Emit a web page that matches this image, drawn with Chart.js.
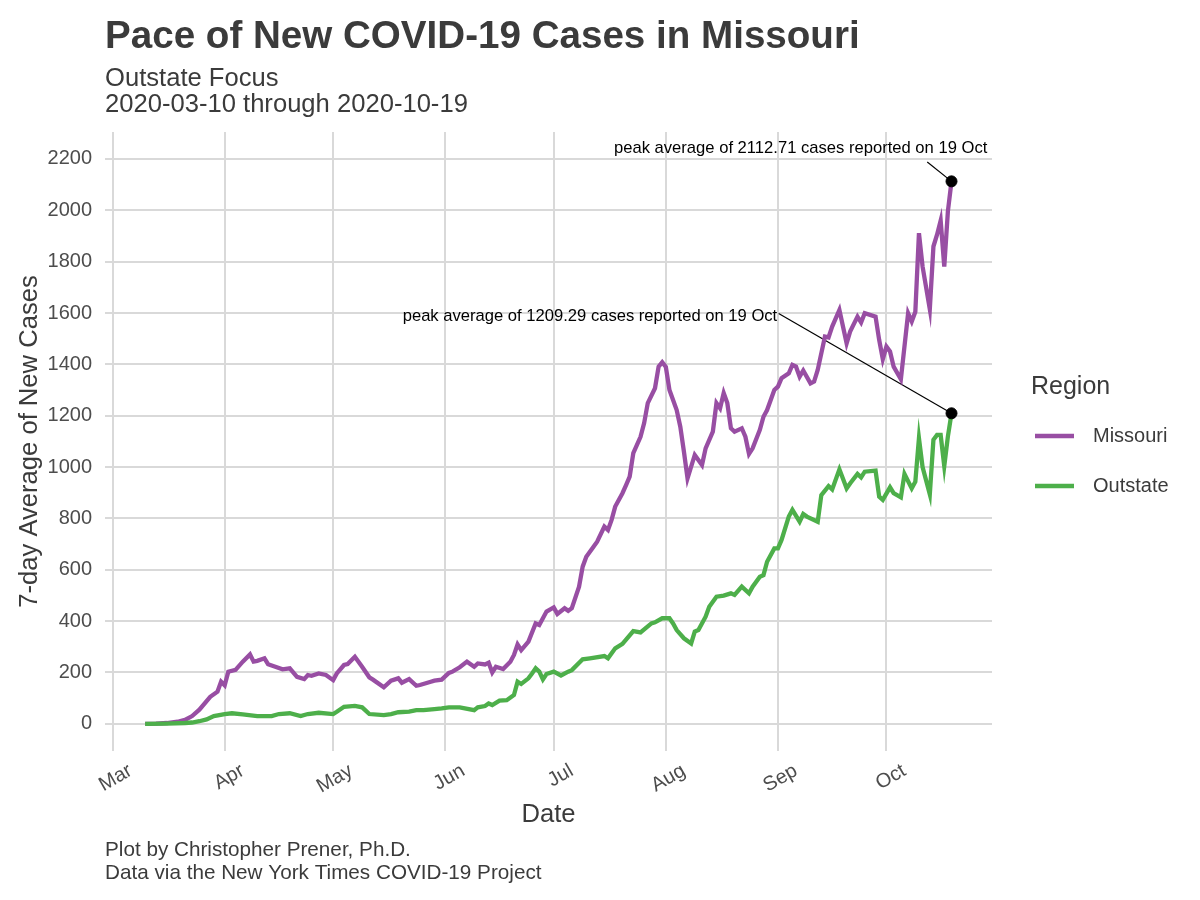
<!DOCTYPE html>
<html>
<head>
<meta charset="utf-8">
<script src="https://cdn.jsdelivr.net/npm/chart.js@4.4.1/dist/chart.umd.min.js"></script>
<style>
  body { margin: 0; background: #fff; }
  #chart { display: block; }
</style>
</head>
<body>
<canvas id="chart" width="1200" height="900"></canvas>
<script>
// --- data (dates in 2020) ---
const missouriDates = ['03-10','03-13','03-16','03-19','03-21','03-23','03-25','03-28','03-30','03-31',
  '04-01','04-02','04-04','04-06','04-08','04-09','04-10','04-12','04-13','04-15','04-17','04-19','04-21','04-23','04-24','04-25','04-27','04-29',
  '05-01','05-02','05-04','05-05','05-07','05-09','05-11','05-12','05-15','05-17','05-19','05-20','05-22','05-24','05-25','05-28','05-29','05-31',
  '06-02','06-03','06-05','06-07','06-09','06-10','06-12','06-13','06-14','06-15','06-17','06-19','06-20','06-21','06-22','06-24','06-26','06-27','06-29',
  '07-01','07-02','07-04','07-05','07-06','07-08','07-09','07-10','07-12','07-13','07-15','07-16','07-17','07-18','07-20','07-21','07-22','07-23','07-25','07-26','07-27','07-29','07-30','07-31',
  '08-01','08-02','08-03','08-04','08-05','08-06','08-07','08-09','08-11','08-12','08-14','08-15','08-16','08-17','08-18','08-19','08-20','08-22','08-23','08-24','08-25','08-27','08-28','08-29','08-31',
  '09-01','09-02','09-04','09-05','09-06','09-07','09-08','09-10','09-11','09-12','09-14','09-15','09-16','09-18','09-20','09-21','09-23','09-24','09-25','09-28','09-29','09-30',
  '10-01','10-02','10-03','10-05','10-07','10-08','10-09','10-10','10-11','10-13','10-14','10-15','10-16','10-17','10-18','10-19'];
const missouriValues = [0,1,3,8,15,30,55,105,125,164,
  150,203,210,242,270,242,245,255,232,222,212,216,183,174,190,187,196,190,
  170,196,229,233,261,222,181,172,142,168,177,160,174,148,151,164,168,172,
  198,203,220,242,222,235,231,238,200,222,213,242,268,309,287,320,391,385,437,
  453,428,450,440,450,534,612,651,690,709,768,755,794,846,898,930,963,1054,1118,1171,1249,1307,1391,1408,
  1390,1300,1261,1222,1157,1060,956,1047,1008,1073,1138,1249,1229,1288,1249,1151,1138,1151,1118,1051,1073,1145,1196,1222,1300,
  1313,1346,1365,1398,1391,1352,1376,1326,1333,1378,1508,1505,1547,1612,1482,1529,1586,1563,1599,1586,1495,1420,
  1469,1450,1391,1342,1599,1567,1605,1911,1781,1615,1859,1905,1960,1781,1996,2112.71];

const outstateDates = ['03-10','03-16','03-21','03-23','03-25','03-27','03-29',
  '04-01','04-03','04-06','04-10','04-14','04-16','04-19','04-22','04-24','04-27',
  '05-01','05-02','05-04','05-07','05-09','05-10','05-11','05-15','05-17','05-19','05-22','05-24','05-26','05-29','05-31',
  '06-02','06-05','06-09','06-10','06-12','06-13','06-14','06-16','06-18','06-20','06-21','06-22','06-24','06-25','06-26','06-27','06-28','06-29',
  '07-01','07-03','07-05','07-06','07-09','07-11','07-15','07-16','07-18','07-20','07-23','07-25','07-28','07-29','07-31',
  '08-02','08-03','08-04','08-06','08-08','08-09','08-10','08-12','08-13','08-15','08-17','08-19','08-20','08-22','08-24','08-25','08-27','08-28','08-29','08-31',
  '09-01','09-02','09-04','09-05','09-07','09-08','09-09','09-12','09-13','09-15','09-16','09-18','09-20','09-21','09-23','09-24','09-25','09-28','09-29','09-30',
  '10-02','10-03','10-05','10-06','10-08','10-09','10-10','10-11','10-13','10-14','10-15','10-16','10-17','10-18','10-19'];
const outstateValues = [0,1,3,5,10,17,30,
  38,41,37,30,30,38,41,30,38,43,
  38,47,66,70,64,51,38,34,38,45,47,53,53,57,60,
  64,64,53,64,69,79,73,90,92,112,164,155,177,196,216,203,173,194,
  203,188,203,209,251,255,264,255,294,311,361,356,391,395,411,
  411,391,365,333,313,359,365,417,456,495,499,508,502,534,508,534,573,579,631,683,
  683,716,807,833,787,817,807,787,891,926,913,991,917,937,973,960,982,986,885,872,
  921,898,882,973,917,943,1112,1000,894,1106,1125,1125,1004,1119,1209.29];

const seriesNames = ['Missouri', 'Outstate'];
const seriesColors = ['#984ea3', '#4daf4a'];
const peakDate = '10-19';
const peakValues = [2112.71, 1209.29];
const peakLabels = ['19 Oct', '19 Oct'];

const monthStarts = ['03-01','04-01','05-01','06-01','07-01','08-01','09-01','10-01'];
const monthLabels = ['Mar','Apr','May','Jun','Jul','Aug','Sep','Oct'];
const yTicks = [0,200,400,600,800,1000,1200,1400,1600,1800,2000,2200];

// days since 1 March 2020
function dayOf(md) {
  const [m, d] = md.split('-').map(Number);
  return (Date.UTC(2020, m - 1, d) - Date.UTC(2020, 2, 1)) / 86400000;
}
const toPoints = (dates, vals) => dates.map((d, i) => ({ x: dayOf(d), y: vals[i] }));

const FONT = '"Liberation Sans", Arial, sans-serif';
const TEXT = '#3b3b3b';

// label anchors for the peak annotations, in data units (day, value)
const annot = [
  { textEnd: [241.9, 2240], lineFrom: [225.3, 2188] },
  { textEnd: [183.8, 1585], lineFrom: [184.2, 1598] }
];

const decor = {
  id: 'decor',
  beforeDatasetsDraw(chart) {
    const { ctx, scales: { x, y } } = chart;
    ctx.save();
    ctx.strokeStyle = '#000';
    ctx.lineWidth = 1.2;
    annot.forEach((a, i) => {
      ctx.beginPath();
      ctx.moveTo(x.getPixelForValue(a.lineFrom[0]), y.getPixelForValue(a.lineFrom[1]));
      ctx.lineTo(x.getPixelForValue(dayOf(peakDate)), y.getPixelForValue(peakValues[i]));
      ctx.stroke();
    });
    ctx.restore();
  },
  afterDraw(chart) {
    const { ctx, scales: { x, y } } = chart;
    ctx.save();
    ctx.textBaseline = 'alphabetic';
    ctx.textAlign = 'left';
    ctx.fillStyle = TEXT;
    ctx.font = 'bold 38.6px ' + FONT;
    ctx.fillText('Pace of New COVID-19 Cases in Missouri', 105, 48);
    ctx.font = '25.6px ' + FONT;
    ctx.fillText('Outstate Focus', 105, 86);
    ctx.fillText('2020-03-10 through 2020-10-19', 105, 112);
    ctx.font = '20.7px ' + FONT;
    ctx.fillText('Plot by Christopher Prener, Ph.D.', 105, 856);
    ctx.fillText('Data via the New York Times COVID-19 Project', 105, 879);

    // legend
    ctx.font = '25px ' + FONT;
    ctx.textBaseline = 'middle';
    ctx.fillText('Region', 1031, 387);
    ctx.font = '20px ' + FONT;
    seriesNames.forEach((name, i) => {
      const ly = 436 + i * 50;
      ctx.strokeStyle = seriesColors[i];
      ctx.lineWidth = 4.5;
      ctx.beginPath();
      ctx.moveTo(1035, ly);
      ctx.lineTo(1074, ly);
      ctx.stroke();
      ctx.fillStyle = TEXT;
      ctx.fillText(name, 1093, ly);
    });

    // peak labels
    ctx.font = '16.6px ' + FONT;
    ctx.fillStyle = '#000';
    ctx.textAlign = 'right';
    annot.forEach((a, i) => {
      const txt = 'peak average of ' + peakValues[i].toFixed(2) + ' cases reported on ' + peakLabels[i];
      ctx.fillText(txt, x.getPixelForValue(a.textEnd[0]), y.getPixelForValue(a.textEnd[1]));
    });
    ctx.restore();
  }
};

new Chart(document.getElementById('chart'), {
  type: 'line',
  data: {
    datasets: [
      {
        label: seriesNames[0],
        data: toPoints(missouriDates, missouriValues),
        borderColor: seriesColors[0],
        borderWidth: 4.3,
        pointRadius: 0,
        tension: 0,
        order: 2
      },
      {
        label: seriesNames[1],
        data: toPoints(outstateDates, outstateValues),
        borderColor: seriesColors[1],
        borderWidth: 4.3,
        pointRadius: 0,
        tension: 0,
        order: 1
      },
      {
        type: 'scatter',
        label: 'peaks',
        data: peakValues.map(v => ({ x: dayOf(peakDate), y: v })),
        backgroundColor: '#000',
        borderColor: '#000',
        pointRadius: 5.5,
        order: 0
      }
    ]
  },
  options: {
    responsive: false,
    animation: false,
    layout: { padding: { top: 132, right: 208, bottom: 0, left: 0 } },
    plugins: {
      legend: { display: false },
      tooltip: { enabled: false }
    },
    scales: {
      x: {
        type: 'linear',
        min: -2.1,
        max: 243.2,
        afterFit(s) { s.height = 149; },
        afterBuildTicks(s) { s.ticks = monthStarts.map(m => ({ value: dayOf(m) })); },
        border: { display: false },
        grid: { color: '#d9d9d9', lineWidth: 2, drawTicks: false },
        ticks: {
          autoSkip: false,
          minRotation: 30,
          maxRotation: 30,
          padding: 8,
          labelOffset: 18,
          color: '#4d4d4d',
          font: { family: FONT, size: 20 },
          callback: (v, i) => monthLabels[i]
        },
        title: {
          display: true,
          text: 'Date',
          color: TEXT,
          font: { family: FONT, size: 25.6 },
          padding: { top: 0, bottom: 70 }
        }
      },
      y: {
        min: -106,
        max: 2305,
        afterFit(s) { s.width = 105; },
        afterBuildTicks(s) { s.ticks = yTicks.map(v => ({ value: v })); },
        border: { display: false },
        grid: { color: '#d9d9d9', lineWidth: 2, drawTicks: false },
        ticks: {
          padding: 13,
          color: '#4d4d4d',
          font: { family: FONT, size: 20 },
          callback: v => String(v)
        },
        title: {
          display: true,
          text: '7-day Average of New Cases',
          color: TEXT,
          font: { family: FONT, size: 25.6 },
          padding: { top: 15, bottom: 0 }
        }
      }
    }
  },
  plugins: [decor]
});
</script>
</body>
</html>
